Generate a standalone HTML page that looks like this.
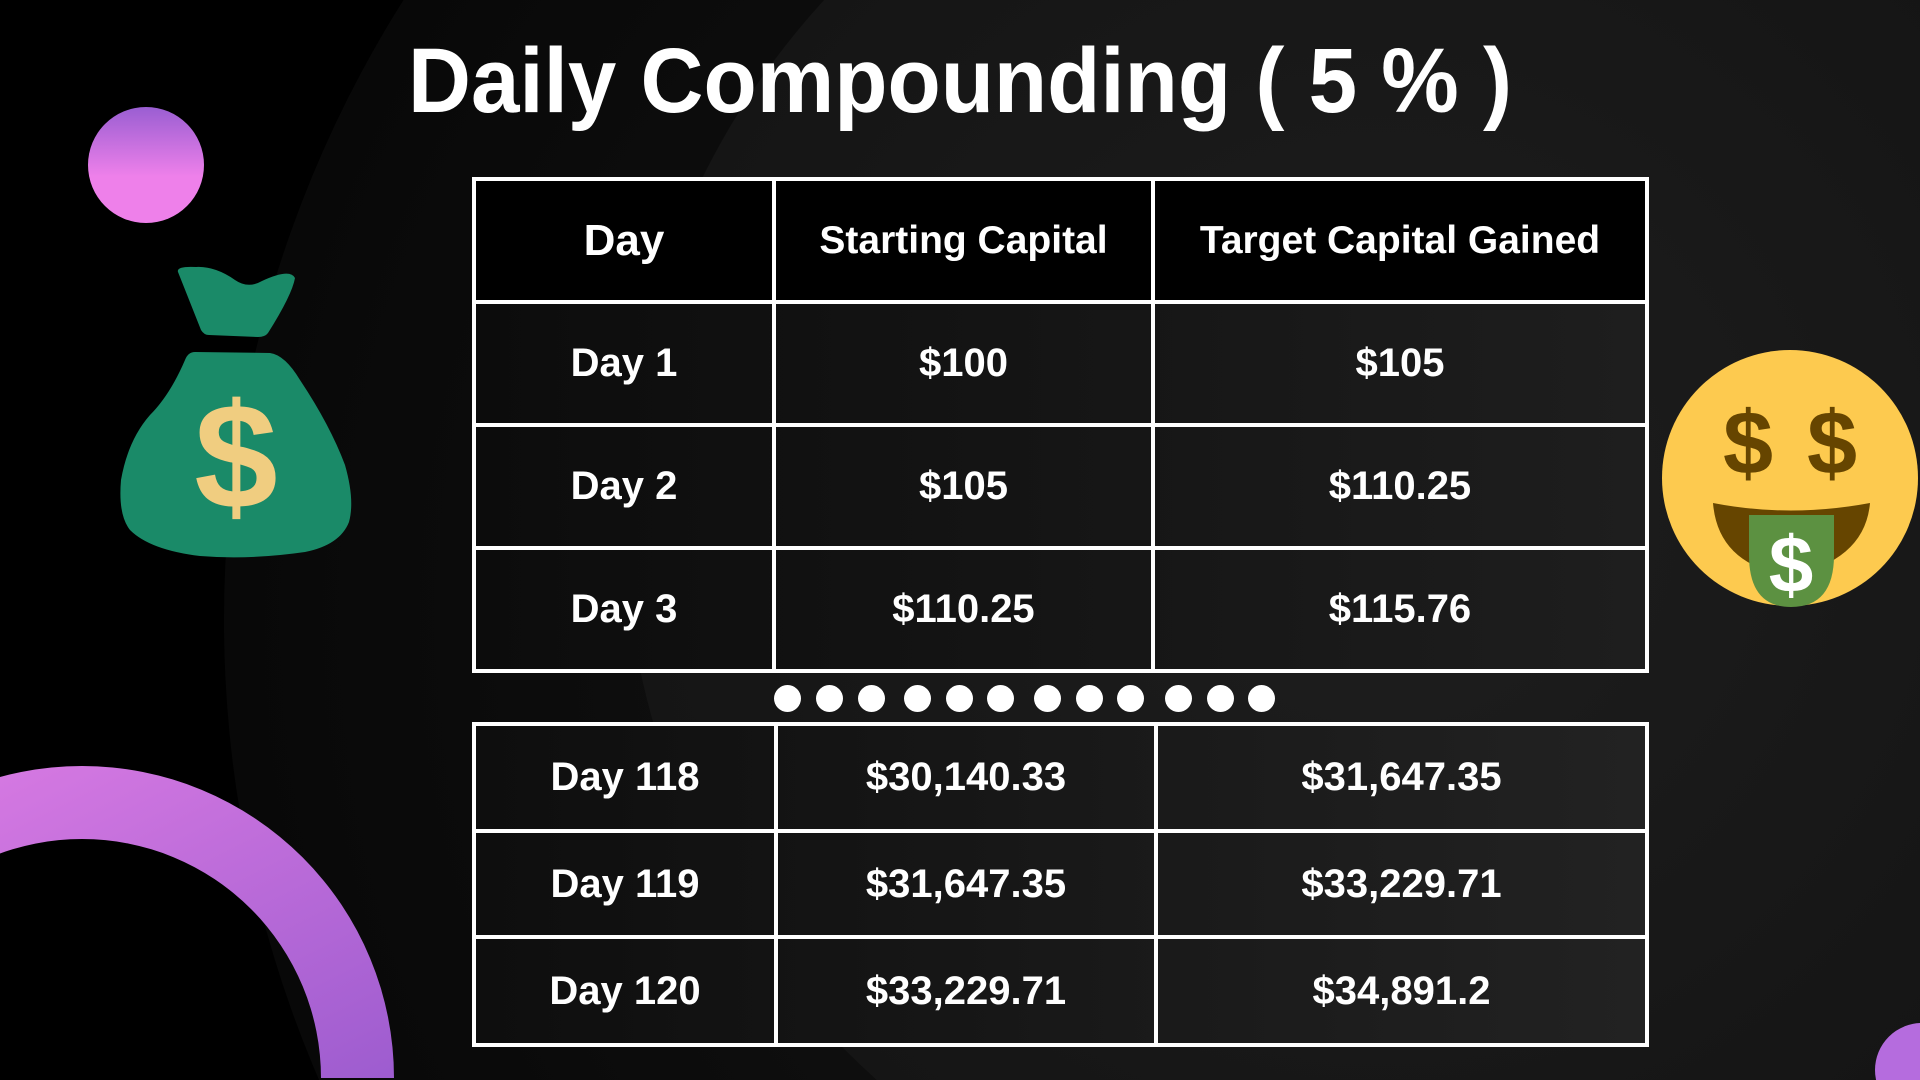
<!DOCTYPE html>
<html><head><meta charset="utf-8">
<style>
html,body{margin:0;padding:0;overflow:hidden;width:1920px;height:1080px;}
body{background:#000;font-family:"Liberation Sans",sans-serif;}
#wrap{position:relative;width:1920px;height:1080px;overflow:hidden;}
.abs{position:absolute;}
.cell{position:absolute;display:flex;align-items:center;justify-content:center;color:#fff;font-weight:bold;font-size:40px;box-sizing:border-box;white-space:nowrap;}
.hd{font-size:39px;}
.line{position:absolute;background:#fff;}
.dot{position:absolute;width:27px;height:27px;border-radius:50%;background:#fff;}
</style></head>
<body>
<div id="wrap">
<svg class="abs" style="left:0;top:0" width="1920" height="1080">
<defs>
<radialGradient id="bg" cx="0.5" cy="0.5" r="0.5">
<stop offset="0" stop-color="#1e1e1e"/><stop offset="1" stop-color="#151515"/></radialGradient>
<radialGradient id="bgo" cx="0.5" cy="0.5" r="0.5">
<stop offset="0.6" stop-color="#0e0e0e"/><stop offset="1" stop-color="#080808"/></radialGradient>
<linearGradient id="pc" x1="0" y1="0" x2="0" y2="1"><stop offset="0" stop-color="#9a5ed2"/><stop offset="0.6" stop-color="#ee80ea"/></linearGradient>
<linearGradient id="ring" x1="0" y1="0" x2="1" y2="1"><stop offset="0" stop-color="#e27fe6"/><stop offset="1" stop-color="#9d5ccf"/></linearGradient>
</defs>
<circle cx="1384" cy="620" r="1160" fill="url(#bgo)"/>
<circle cx="1384" cy="514" r="760" fill="url(#bg)"/>
<circle cx="146" cy="165" r="58" fill="url(#pc)"/>
<path d="M82,1078 m-312,0 a312,312 0 1,1 624,0 l-73,0 a239,239 0 1,0 -478,0 z" fill="url(#ring)"/>
<circle cx="1922" cy="1070" r="47" fill="#b56cde"/>
<g>
<path d="M178,272 Q176,266 196,267 Q215,266 235,280 Q248,289 262,281 Q290,268 295,278 Q292,295 268,333 Q265,337 258,337 L209,335 Q204,335 201,330 Z" fill="#1a8a68"/>
<path d="M195,352 L270,353 Q285,355 300,380 Q330,425 345,465 Q355,500 349,522 Q340,545 305,552 Q250,560 200,556 Q150,550 130,530 Q118,515 121,480 Q128,440 150,415 Q170,395 185,360 Q188,352 195,352 Z" fill="#1a8a68"/>
<text x="236" y="508" text-anchor="middle" font-family="Liberation Sans" font-weight="bold" font-size="150" fill="#f0cd80">$</text>
</g>
<g>
<circle cx="1790" cy="478" r="128" fill="#fdca4f"/>
<path d="M1713,503 Q1790,518 1870,503 Q1865,560 1790,576 Q1718,565 1713,503 Z" fill="#664500"/>
<path d="M1749,515 L1834,515 L1834,555 Q1834,607 1791,607 Q1749,607 1749,555 Z" fill="#5c9141"/>
<text x="1791" y="592" text-anchor="middle" font-family="Liberation Sans" font-weight="bold" font-size="80" fill="#fff">$</text>
<text x="1748" y="474" text-anchor="middle" font-family="Liberation Sans" font-weight="bold" font-size="90" fill="#664500">$</text>
<text x="1832" y="474" text-anchor="middle" font-family="Liberation Sans" font-weight="bold" font-size="90" fill="#664500">$</text>
</g>
<text x="408" y="112" textLength="1104" lengthAdjust="spacingAndGlyphs" font-family="Liberation Sans" font-weight="bold" font-size="92" fill="#fff">Daily Compounding ( 5 % )</text>
</svg>

<div class="abs" style="left:474px;top:179px;width:1173px;height:492px;background:linear-gradient(90deg,#0c0c0c,#1e1e1e);">
<div class="abs" style="left:0;top:0;width:1173px;height:123px;background:#000;"></div>
</div>
<div class="cell" style="left:474px;top:179px;width:300px;height:123px;font-size:44px;">Day</div>
<div class="cell hd" style="left:774px;top:179px;width:379px;height:123px;">Starting Capital</div>
<div class="cell hd" style="left:1153px;top:179px;width:494px;height:123px;">Target Capital Gained</div>

<div class="cell" style="left:474px;top:302px;width:300px;height:123px;">Day 1</div>
<div class="cell" style="left:774px;top:302px;width:379px;height:123px;">$100</div>
<div class="cell" style="left:1153px;top:302px;width:494px;height:123px;">$105</div>
<div class="cell" style="left:474px;top:425px;width:300px;height:123px;">Day 2</div>
<div class="cell" style="left:774px;top:425px;width:379px;height:123px;">$105</div>
<div class="cell" style="left:1153px;top:425px;width:494px;height:123px;">$110.25</div>
<div class="cell" style="left:474px;top:548px;width:300px;height:123px;">Day 3</div>
<div class="cell" style="left:774px;top:548px;width:379px;height:123px;">$110.25</div>
<div class="cell" style="left:1153px;top:548px;width:494px;height:123px;">$115.76</div>

<div class="line" style="left:472px;top:177px;width:1177px;height:4px"></div>
<div class="line" style="left:472px;top:300px;width:1177px;height:4px"></div>
<div class="line" style="left:472px;top:423px;width:1177px;height:4px"></div>
<div class="line" style="left:472px;top:546px;width:1177px;height:4px"></div>
<div class="line" style="left:472px;top:669px;width:1177px;height:4px"></div>
<div class="line" style="left:472px;top:177px;width:4px;height:496px"></div>
<div class="line" style="left:772px;top:177px;width:4px;height:496px"></div>
<div class="line" style="left:1151px;top:177px;width:4px;height:496px"></div>
<div class="line" style="left:1645px;top:177px;width:4px;height:496px"></div>

<div>
<div class="dot" style="left:774px;top:685px"></div>
<div class="dot" style="left:816px;top:685px"></div>
<div class="dot" style="left:858px;top:685px"></div>
<div class="dot" style="left:904px;top:685px"></div>
<div class="dot" style="left:946px;top:685px"></div>
<div class="dot" style="left:987px;top:685px"></div>
<div class="dot" style="left:1034px;top:685px"></div>
<div class="dot" style="left:1076px;top:685px"></div>
<div class="dot" style="left:1117px;top:685px"></div>
<div class="dot" style="left:1165px;top:685px"></div>
<div class="dot" style="left:1207px;top:685px"></div>
<div class="dot" style="left:1248px;top:685px"></div>
</div>

<div class="abs" style="left:474px;top:724px;width:1173px;height:321px;background:linear-gradient(90deg,#0e0e0e,#222);"></div>
<div class="cell" style="left:474px;top:724px;width:302px;height:107px;">Day 118</div>
<div class="cell" style="left:776px;top:724px;width:380px;height:107px;">$30,140.33</div>
<div class="cell" style="left:1156px;top:724px;width:491px;height:107px;">$31,647.35</div>
<div class="cell" style="left:474px;top:831px;width:302px;height:106px;">Day 119</div>
<div class="cell" style="left:776px;top:831px;width:380px;height:106px;">$31,647.35</div>
<div class="cell" style="left:1156px;top:831px;width:491px;height:106px;">$33,229.71</div>
<div class="cell" style="left:474px;top:937px;width:302px;height:108px;">Day 120</div>
<div class="cell" style="left:776px;top:937px;width:380px;height:108px;">$33,229.71</div>
<div class="cell" style="left:1156px;top:937px;width:491px;height:108px;">$34,891.2</div>

<div class="line" style="left:472px;top:722px;width:1177px;height:4px"></div>
<div class="line" style="left:472px;top:829px;width:1177px;height:4px"></div>
<div class="line" style="left:472px;top:935px;width:1177px;height:4px"></div>
<div class="line" style="left:472px;top:1043px;width:1177px;height:4px"></div>
<div class="line" style="left:472px;top:722px;width:4px;height:325px"></div>
<div class="line" style="left:774px;top:722px;width:4px;height:325px"></div>
<div class="line" style="left:1154px;top:722px;width:4px;height:325px"></div>
<div class="line" style="left:1645px;top:722px;width:4px;height:325px"></div>
</div>
</body></html>
